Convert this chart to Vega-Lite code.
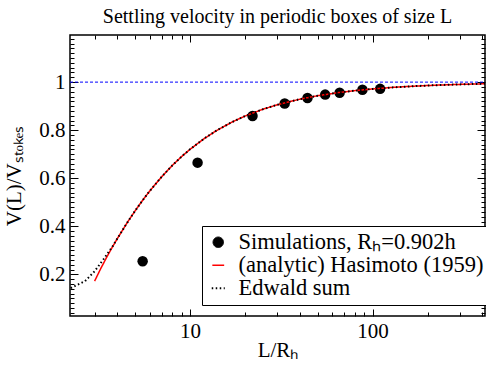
{
  "$schema": "https://vega.github.io/schema/vega-lite/v6.json",
  "width": 415,
  "height": 281,
  "autosize": {"type": "none"},
  "padding": {"left": 70, "top": 35, "right": 1, "bottom": 50},
  "title": {"text": "Settling velocity in periodic boxes of size L", "font": "Liberation Serif", "fontSize": 20, "fontWeight": "normal", "color": "black", "anchor": "middle", "offset": 8},
  "config": {
    "view": {"stroke": "black", "strokeWidth": 1.5},
    "font": "Liberation Serif",
    "axis": {"labelFont": "Liberation Serif", "labelFontSize": 21, "labelColor": "black", "tickColor": "black", "tickWidth": 1, "titleFont": "Liberation Serif", "titleFontSize": 21, "titleColor": "black", "titleFontWeight": "normal", "grid": false, "domain": false},
    "legend": {"orient": "none", "legendX": 132, "legendY": 191, "labelFont": "Liberation Serif", "labelFontSize": 22.5, "labelColor": "black", "strokeColor": "black", "fillColor": "white", "padding": 5, "rowPadding": 0, "labelOffset": 9, "labelLimit": 0, "title": null}
  },
  "datasets": {
    "ref": [{"L": 2.2, "V": 1}, {"L": 413, "V": 1}],
    "sim": [
      {"L": 5.5, "V": 0.255, "series": "Simulations, Rₕ=0.902h"},
      {"L": 11, "V": 0.665, "series": "Simulations, Rₕ=0.902h"},
      {"L": 22, "V": 0.859, "series": "Simulations, Rₕ=0.902h"},
      {"L": 33, "V": 0.911, "series": "Simulations, Rₕ=0.902h"},
      {"L": 44, "V": 0.934, "series": "Simulations, Rₕ=0.902h"},
      {"L": 55, "V": 0.948, "series": "Simulations, Rₕ=0.902h"},
      {"L": 66, "V": 0.956, "series": "Simulations, Rₕ=0.902h"},
      {"L": 88, "V": 0.968, "series": "Simulations, Rₕ=0.902h"},
      {"L": 110, "V": 0.972, "series": "Simulations, Rₕ=0.902h"}
    ],
    "has": [
      {"L": 3, "V": 0.1719, "series": "(analytic) Hasimoto (1959)"},
      {"L": 3.25, "V": 0.2259, "series": "(analytic) Hasimoto (1959)"},
      {"L": 3.5, "V": 0.2723, "series": "(analytic) Hasimoto (1959)"},
      {"L": 3.75, "V": 0.3131, "series": "(analytic) Hasimoto (1959)"},
      {"L": 4, "V": 0.3495, "series": "(analytic) Hasimoto (1959)"},
      {"L": 4.5, "V": 0.4122, "series": "(analytic) Hasimoto (1959)"},
      {"L": 5, "V": 0.4644, "series": "(analytic) Hasimoto (1959)"},
      {"L": 5.5, "V": 0.5084, "series": "(analytic) Hasimoto (1959)"},
      {"L": 6, "V": 0.546, "series": "(analytic) Hasimoto (1959)"},
      {"L": 7, "V": 0.6067, "series": "(analytic) Hasimoto (1959)"},
      {"L": 8, "V": 0.6536, "series": "(analytic) Hasimoto (1959)"},
      {"L": 9, "V": 0.6905, "series": "(analytic) Hasimoto (1959)"},
      {"L": 10, "V": 0.7205, "series": "(analytic) Hasimoto (1959)"},
      {"L": 12, "V": 0.766, "series": "(analytic) Hasimoto (1959)"},
      {"L": 14, "V": 0.7989, "series": "(analytic) Hasimoto (1959)"},
      {"L": 17, "V": 0.834, "series": "(analytic) Hasimoto (1959)"},
      {"L": 20, "V": 0.8587, "series": "(analytic) Hasimoto (1959)"},
      {"L": 25, "V": 0.8868, "series": "(analytic) Hasimoto (1959)"},
      {"L": 30, "V": 0.9056, "series": "(analytic) Hasimoto (1959)"},
      {"L": 40, "V": 0.9291, "series": "(analytic) Hasimoto (1959)"},
      {"L": 50, "V": 0.9433, "series": "(analytic) Hasimoto (1959)"},
      {"L": 65, "V": 0.9564, "series": "(analytic) Hasimoto (1959)"},
      {"L": 80, "V": 0.9646, "series": "(analytic) Hasimoto (1959)"},
      {"L": 100, "V": 0.9716, "series": "(analytic) Hasimoto (1959)"},
      {"L": 130, "V": 0.9782, "series": "(analytic) Hasimoto (1959)"},
      {"L": 170, "V": 0.9833, "series": "(analytic) Hasimoto (1959)"},
      {"L": 220, "V": 0.9871, "series": "(analytic) Hasimoto (1959)"},
      {"L": 300, "V": 0.9905, "series": "(analytic) Hasimoto (1959)"},
      {"L": 413, "V": 0.9931, "series": "(analytic) Hasimoto (1959)"}
    ],
    "ewa": [
      {"L": 2.22, "V": 0.143, "series": "Edwald sum"},
      {"L": 2.66, "V": 0.172, "series": "Edwald sum"},
      {"L": 3, "V": 0.213, "series": "Edwald sum"},
      {"L": 3.35, "V": 0.262, "series": "Edwald sum"},
      {"L": 3.75, "V": 0.315, "series": "Edwald sum"},
      {"L": 4, "V": 0.3495, "series": "Edwald sum"},
      {"L": 4.5, "V": 0.4122, "series": "Edwald sum"},
      {"L": 5, "V": 0.4644, "series": "Edwald sum"},
      {"L": 5.5, "V": 0.5084, "series": "Edwald sum"},
      {"L": 6, "V": 0.546, "series": "Edwald sum"},
      {"L": 7, "V": 0.6067, "series": "Edwald sum"},
      {"L": 8, "V": 0.6536, "series": "Edwald sum"},
      {"L": 9, "V": 0.6905, "series": "Edwald sum"},
      {"L": 10, "V": 0.7205, "series": "Edwald sum"},
      {"L": 12, "V": 0.766, "series": "Edwald sum"},
      {"L": 14, "V": 0.7989, "series": "Edwald sum"},
      {"L": 17, "V": 0.834, "series": "Edwald sum"},
      {"L": 20, "V": 0.8587, "series": "Edwald sum"},
      {"L": 25, "V": 0.8868, "series": "Edwald sum"},
      {"L": 30, "V": 0.9056, "series": "Edwald sum"},
      {"L": 40, "V": 0.9291, "series": "Edwald sum"},
      {"L": 50, "V": 0.9433, "series": "Edwald sum"},
      {"L": 65, "V": 0.9564, "series": "Edwald sum"},
      {"L": 80, "V": 0.9646, "series": "Edwald sum"},
      {"L": 100, "V": 0.9716, "series": "Edwald sum"},
      {"L": 130, "V": 0.9782, "series": "Edwald sum"},
      {"L": 170, "V": 0.9833, "series": "Edwald sum"},
      {"L": 220, "V": 0.9871, "series": "Edwald sum"},
      {"L": 300, "V": 0.9905, "series": "Edwald sum"},
      {"L": 413, "V": 0.9931, "series": "Edwald sum"}
    ]
  },
  "layer": [
    {
      "data": {"name": "ref"},
      "mark": {"type": "line", "color": "#0000ff", "strokeWidth": 1, "strokeDash": [3, 2]},
      "encoding": {
        "x": {"field": "L", "type": "quantitative", "scale": {"type": "log", "domain": [2.2, 413], "nice": false}, "axis": {"orient": "top", "values": [3, 4, 5, 6, 7, 8, 9, 20, 30, 40, 50, 60, 70, 80, 90, 200, 300, 400], "labels": false, "tickSize": -4, "title": null}},
        "y": {"field": "V", "type": "quantitative", "scale": {"domain": [0.027, 1.196], "nice": false, "zero": false}, "axis": {"orient": "right", "values": [0.04, 0.06, 0.08, 0.1, 0.12, 0.14, 0.16, 0.18, 0.22, 0.24, 0.26, 0.28, 0.3, 0.32, 0.34, 0.36, 0.38, 0.42, 0.44, 0.46, 0.48, 0.5, 0.52, 0.54, 0.56, 0.58, 0.62, 0.64, 0.66, 0.68, 0.7, 0.72, 0.74, 0.76, 0.78, 0.82, 0.84, 0.86, 0.88, 0.9, 0.92, 0.94, 0.96, 0.98, 1.02, 1.04, 1.06, 1.08, 1.1, 1.12, 1.14, 1.16, 1.18], "labels": false, "tickSize": -4, "title": null}}
      }
    },
    {
      "data": {"name": "sim"},
      "mark": {"type": "point", "filled": true, "opacity": 1},
      "encoding": {
        "x": {"field": "L", "type": "quantitative", "scale": {"type": "log", "domain": [2.2, 413], "nice": false}, "axis": {"orient": "bottom", "values": [10, 100], "tickSize": -7, "labelPadding": 11, "labelFont": "Liberation Serif", "titleFont": "Liberation Serif", "title": "L/Rₕ", "titlePadding": -2}},
        "y": {"field": "V", "type": "quantitative", "scale": {"domain": [0.027, 1.196], "nice": false, "zero": false}, "axis": {"orient": "left", "values": [0.2, 0.4, 0.6, 0.8, 1], "format": "~g", "tickSize": -8, "labelPadding": 13, "labelFont": "Liberation Serif", "titleFont": "Liberation Serif", "title": "V(L)/Vₛₜₒₖₑₛ", "titlePadding": 14}},
        "fill": {"field": "series", "type": "nominal", "scale": {"domain": ["Simulations, Rₕ=0.902h", "(analytic) Hasimoto (1959)", "Edwald sum"], "range": ["black", "red", "black"]}, "legend": {"title": null, "labelFont": "Liberation Serif"}},
        "shape": {"field": "series", "type": "nominal", "scale": {"domain": ["Simulations, Rₕ=0.902h", "(analytic) Hasimoto (1959)", "Edwald sum"], "range": ["circle", "stroke", "stroke"]}, "legend": {"title": null, "labelFont": "Liberation Serif"}},
        "size": {"field": "series", "type": "nominal", "scale": {"domain": ["Simulations, Rₕ=0.902h", "(analytic) Hasimoto (1959)", "Edwald sum"], "range": [110, 170, 170]}, "legend": {"title": null, "labelFont": "Liberation Serif"}}
      }
    },
    {
      "data": {"name": "has"},
      "mark": {"type": "line"},
      "encoding": {
        "x": {"field": "L", "type": "quantitative", "scale": {"type": "log", "domain": [2.2, 413], "nice": false}, "axis": {"orient": "bottom", "values": [3, 4, 5, 6, 7, 8, 9, 20, 30, 40, 50, 60, 70, 80, 90, 200, 300, 400], "labels": false, "tickSize": -4, "title": null}},
        "y": {"field": "V", "type": "quantitative", "scale": {"domain": [0.027, 1.196], "nice": false, "zero": false}, "axis": {"orient": "left", "values": [0.04, 0.06, 0.08, 0.1, 0.12, 0.14, 0.16, 0.18, 0.22, 0.24, 0.26, 0.28, 0.3, 0.32, 0.34, 0.36, 0.38, 0.42, 0.44, 0.46, 0.48, 0.5, 0.52, 0.54, 0.56, 0.58, 0.62, 0.64, 0.66, 0.68, 0.7, 0.72, 0.74, 0.76, 0.78, 0.82, 0.84, 0.86, 0.88, 0.9, 0.92, 0.94, 0.96, 0.98, 1.02, 1.04, 1.06, 1.08, 1.1, 1.12, 1.14, 1.16, 1.18], "labels": false, "tickSize": -4, "title": null}},
        "stroke": {"field": "series", "type": "nominal", "scale": {"domain": ["Simulations, Rₕ=0.902h", "(analytic) Hasimoto (1959)", "Edwald sum"], "range": ["black", "red", "black"]}, "legend": {"title": null, "labelFont": "Liberation Serif"}},
        "strokeDash": {"field": "series", "type": "nominal", "scale": {"domain": ["Simulations, Rₕ=0.902h", "(analytic) Hasimoto (1959)", "Edwald sum"], "range": [[1, 0], [1, 0], [1.5, 2.5]]}, "legend": {"title": null, "labelFont": "Liberation Serif"}},
        "strokeWidth": {"field": "series", "type": "nominal", "scale": {"domain": ["Simulations, Rₕ=0.902h", "(analytic) Hasimoto (1959)", "Edwald sum"], "range": [1, 2, 1]}, "legend": {"title": null, "labelFont": "Liberation Serif"}}
      }
    },
    {
      "data": {"name": "ewa"},
      "mark": {"type": "line"},
      "encoding": {
        "x": {"field": "L", "type": "quantitative", "scale": {"type": "log", "domain": [2.2, 413], "nice": false}, "axis": {"orient": "top", "values": [10, 100], "labels": false, "tickSize": -7, "title": null}},
        "y": {"field": "V", "type": "quantitative", "scale": {"domain": [0.027, 1.196], "nice": false, "zero": false}, "axis": {"orient": "right", "values": [0.2, 0.4, 0.6, 0.8, 1], "labels": false, "tickSize": -8, "title": null}},
        "stroke": {"field": "series", "type": "nominal", "scale": {"domain": ["Simulations, Rₕ=0.902h", "(analytic) Hasimoto (1959)", "Edwald sum"], "range": ["black", "red", "black"]}, "legend": {"title": null, "labelFont": "Liberation Serif"}},
        "strokeDash": {"field": "series", "type": "nominal", "scale": {"domain": ["Simulations, Rₕ=0.902h", "(analytic) Hasimoto (1959)", "Edwald sum"], "range": [[1, 0], [1, 0], [1.5, 2.5]]}, "legend": {"title": null, "labelFont": "Liberation Serif"}},
        "strokeWidth": {"field": "series", "type": "nominal", "scale": {"domain": ["Simulations, Rₕ=0.902h", "(analytic) Hasimoto (1959)", "Edwald sum"], "range": [1, 2, 1]}, "legend": {"title": null, "labelFont": "Liberation Serif"}}
      }
    }
  ],
  "resolve": {"axis": {"x": "independent", "y": "independent"}}
}
